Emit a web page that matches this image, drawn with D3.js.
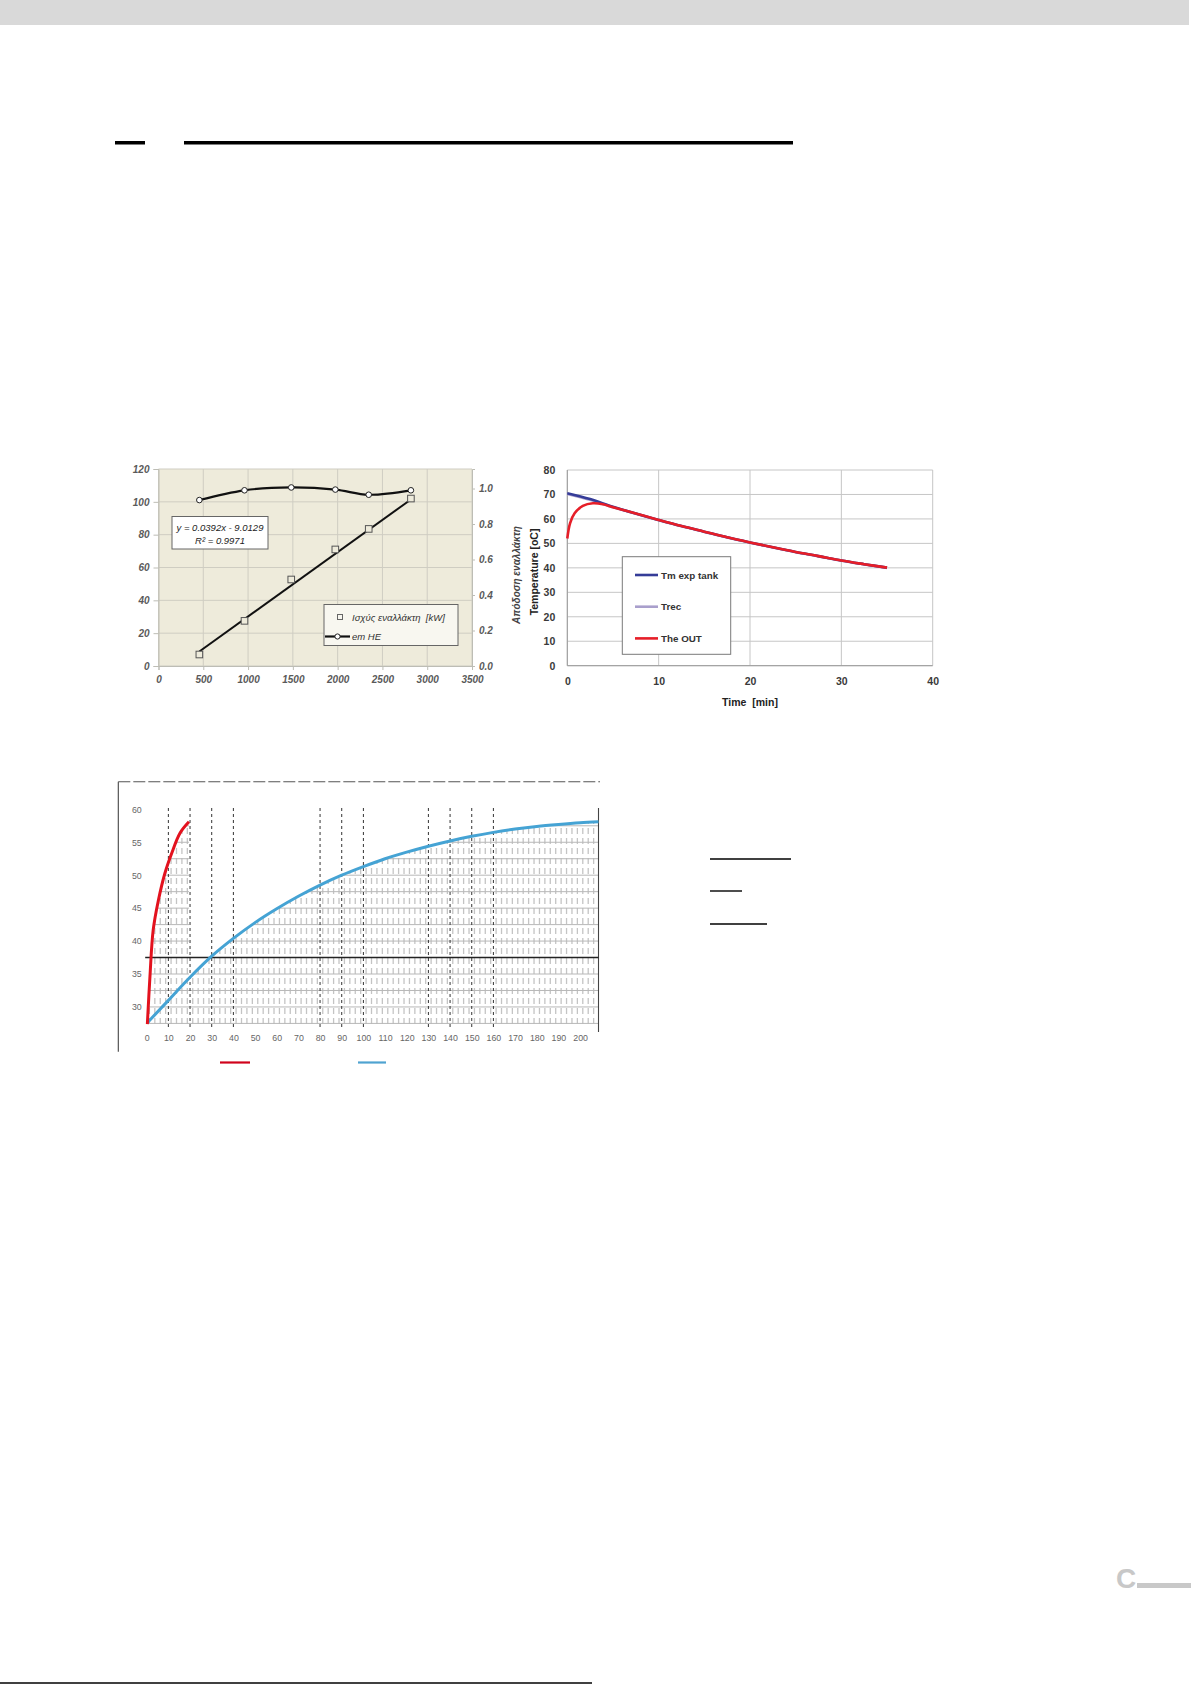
<!DOCTYPE html>
<html><head><meta charset="utf-8">
<script src="https://cdn.jsdelivr.net/npm/d3@7"></script>
<style>body{margin:0;background:#fff}svg{display:block}</style>
</head><body>
<svg id="c" width="1191" height="1685"></svg>
<script>
// ---------- Chart 1: heat exchanger power / efficiency ----------
const hePowerX = [456, 960, 1482, 1974, 2347, 2818];
const hePowerKW = [7, 27.5, 52.7, 71, 83.5, 102];
const heEfficiency = [0.935, 0.99, 1.006, 0.994, 0.965, 0.99];
const trendSlope = 0.0392, trendIntercept = -9.0129;
const trendLabel = ["y = 0.0392x - 9.0129", "R² = 0.9971"];
const heXTicks = [0, 500, 1000, 1500, 2000, 2500, 3000, 3500];
const heYTicks = [0, 20, 40, 60, 80, 100, 120];
const heY2Ticks = [0, 0.2, 0.4, 0.6, 0.8, 1.0];
const heLegend = ["Ισχύς εναλλάκτη  [kW]", "em HE"];
const heY2Title = "Απόδοση εναλλάκτη";

// ---------- Chart 2: temperatures vs time ----------
const tempTime = [0, 2.5, 5, 7.5, 10, 12.5, 15, 17.5, 20, 22.5, 25, 27.5, 30, 32.5, 35];
const tmExpTank = [70.5, 68.1, 65.0, 62.2, 59.6, 57.1, 54.8, 52.5, 50.4, 48.4, 46.5, 44.8, 43.0, 41.5, 40.1];
const tRec = [70.2, 67.8, 64.8, 62.1, 59.5, 57.0, 54.7, 52.4, 50.3, 48.3, 46.4, 44.7, 42.9, 41.4, 40.0];
const outTime = [0, 0.3, 0.8, 1.7, 2.8, 3.9, 5, 7.5, 10, 12.5, 15, 17.5, 20, 22.5, 25, 27.5, 30, 32.5, 35];
const theOut = [52.0, 58.2, 62.3, 65.3, 66.4, 66.0, 64.8, 62.2, 59.6, 57.1, 54.8, 52.5, 50.4, 48.4, 46.5, 44.8, 43.0, 41.5, 40.1];
const tempXTicks = [0, 10, 20, 30, 40];
const tempYTicks = [0, 10, 20, 30, 40, 50, 60, 70, 80];
const tempSeries = ["Tm exp tank", "Trec", "The OUT"];
const tempColors = ["#353c98", "#a99fcc", "#e61e28"];

// ---------- Chart 3: heating curves ----------
const heatRedTime = [0.3, 1.5, 3, 5.4, 8.4, 11.5, 15.4, 19.5];
const heatRedTemp = [27.4, 34.6, 41.7, 46.2, 50.3, 53.3, 56.4, 58.1];
const heatBlueTime = [0.3, 10, 20, 30, 40, 50, 60, 70, 80, 90, 100, 110, 120, 130, 140, 150, 160, 170, 180, 190, 200, 208.5];
const heatBlueTemp = [27.6, 31.0, 34.5, 37.7, 40.4, 42.8, 44.9, 46.8, 48.5, 50.0, 51.3, 52.5, 53.5, 54.4, 55.2, 55.9, 56.5, 57.0, 57.4, 57.7, 57.95, 58.1];
const heatXTicks = [0, 10, 20, 30, 40, 50, 60, 70, 80, 90, 100, 110, 120, 130, 140, 150, 160, 170, 180, 190, 200];
const heatYTicks = [30, 35, 40, 45, 50, 55, 60];
const heatMarkLines = [10, 20, 30, 40, 80, 90, 100, 130, 140, 150, 160];
const heatRefLevel = 37.5;

const svg = d3.select("#c");
const F = "'Liberation Sans', Arial, sans-serif";

// ---------- page decorations ----------
svg.append("rect").attr("x", 0).attr("y", 0).attr("width", 1189).attr("height", 25).attr("fill", "#d9d9d9");
svg.append("rect").attr("x", 115).attr("y", 141).attr("width", 30).attr("height", 3.5).attr("fill", "#000");
svg.append("rect").attr("x", 184).attr("y", 141).attr("width", 609).attr("height", 3.5).attr("fill", "#000");
[[710, 791, 859], [710, 742, 891], [710, 767, 924]].forEach(([a, b, y]) =>
  svg.append("line").attr("x1", a).attr("x2", b).attr("y1", y).attr("y2", y).attr("stroke", "#000").attr("stroke-width", 1.4));
svg.append("text").attr("x", 1116).attr("y", 1588).attr("font-family", F).attr("font-weight", "bold")
  .attr("font-size", 28).attr("fill", "#c8c8c8").text("C");
svg.append("rect").attr("x", 1137).attr("y", 1583).attr("width", 54).attr("height", 5).attr("fill", "#c8c8c8");
svg.append("line").attr("x1", 0).attr("x2", 592).attr("y1", 1683).attr("y2", 1683).attr("stroke", "#000").attr("stroke-width", 1.5);

// ---------- Chart 1 ----------
{
  const g = svg.append("g");
  const x = d3.scaleLinear().domain([0, 3500]).range([158.5, 472]);
  const y = d3.scaleLinear().domain([0, 120]).range([666, 469]);
  const y2 = d3.scaleLinear().domain([0, 1.11]).range([666, 469]);
  g.append("rect").attr("x", x(0)).attr("y", y(120)).attr("width", x(3500) - x(0)).attr("height", y(0) - y(120)).attr("fill", "#eeebdb");
  g.selectAll(".vg").data(heXTicks).join("line").attr("x1", d => x(d)).attr("x2", d => x(d)).attr("y1", y(0)).attr("y2", y(120)).attr("stroke", "#cfcdc2");
  g.selectAll(".hg").data(heYTicks).join("line").attr("y1", d => y(d)).attr("y2", d => y(d)).attr("x1", x(0)).attr("x2", x(3500)).attr("stroke", "#cfcdc2");

  const st = sel => { sel.selectAll("text").attr("font-family", F).attr("font-style", "italic").attr("font-weight", "bold").attr("font-size", 10).attr("fill", "#5a5a5a");
    sel.selectAll("line").attr("stroke", "#bdbdb5"); sel.select(".domain").attr("stroke", "#bdbdb5"); };
  g.append("g").attr("transform", `translate(0,${y(0)})`).call(d3.axisBottom(x).tickValues(heXTicks).tickSize(4).tickPadding(6).tickFormat(d3.format("d"))).call(st);
  g.append("g").attr("transform", `translate(${x(0)},0)`).call(d3.axisLeft(y).tickValues(heYTicks).tickSize(5).tickPadding(4)).call(st);
  g.append("g").attr("transform", `translate(${x(3500)},0)`).call(d3.axisRight(y2).tickValues(heY2Ticks).tickSize(3).tickPadding(4).tickFormat(d3.format(".1f"))).call(st);
  g.selectAll(".domain").attr("stroke", "#bdbdb5");

  g.append("text").attr("transform", "translate(520,575) rotate(-90)").attr("text-anchor", "middle")
    .attr("font-family", F).attr("font-style", "italic").attr("font-weight", "bold").attr("font-size", 10).attr("fill", "#444").text(heY2Title);

  const tx = [hePowerX[0], hePowerX[hePowerX.length - 1]];
  g.append("line").attr("x1", x(tx[0])).attr("y1", y(trendSlope * tx[0] + trendIntercept))
    .attr("x2", x(tx[1])).attr("y2", y(trendSlope * tx[1] + trendIntercept)).attr("stroke", "#111").attr("stroke-width", 2);
  g.selectAll(".sq").data(hePowerX).join("rect").attr("x", (d, i) => x(d) - 3.3).attr("y", (d, i) => y(hePowerKW[i]) - 3.3)
    .attr("width", 6.6).attr("height", 6.6).attr("fill", "#eeebdb").attr("stroke", "#555").attr("stroke-width", 1);
  const pts = hePowerX.map((d, i) => [x(d), y2(heEfficiency[i])]);
  g.append("path").attr("d", d3.line().curve(d3.curveCatmullRom.alpha(0.5))(pts)).attr("fill", "none").attr("stroke", "#111").attr("stroke-width", 2.2);
  g.selectAll(".ci").data(pts).join("circle").attr("cx", d => d[0]).attr("cy", d => d[1]).attr("r", 2.8)
    .attr("fill", "#fff").attr("stroke", "#222").attr("stroke-width", 1);

  g.append("rect").attr("x", 172).attr("y", 516.5).attr("width", 96).attr("height", 32.5).attr("fill", "#fff").attr("stroke", "#666");
  trendLabel.forEach((t, i) => g.append("text").attr("x", 220).attr("y", 531 + i * 12.5).attr("text-anchor", "middle")
    .attr("font-family", F).attr("font-style", "italic").attr("font-size", 9.5).attr("fill", "#222").text(t));

  g.append("rect").attr("x", 324).attr("y", 604.5).attr("width", 134).attr("height", 41).attr("fill", "#f8f7f0").attr("stroke", "#666");
  g.append("rect").attr("x", 337.5).attr("y", 614.5).attr("width", 5).attr("height", 5).attr("fill", "none").attr("stroke", "#666");
  g.append("line").attr("x1", 325).attr("x2", 350).attr("y1", 636.5).attr("y2", 636.5).attr("stroke", "#111").attr("stroke-width", 2.2);
  g.append("circle").attr("cx", 337.5).attr("cy", 636.5).attr("r", 2.6).attr("fill", "#fff").attr("stroke", "#222");
  heLegend.forEach((t, i) => g.append("text").attr("x", 352).attr("y", 620.5 + i * 19.5).style("white-space", "pre")
    .attr("font-family", F).attr("font-style", "italic").attr("font-size", 9.5).attr("fill", "#333").text(t));
}

// ---------- Chart 2 ----------
{
  const g = svg.append("g");
  const x = d3.scaleLinear().domain([0, 40]).range([567.3, 932.7]);
  const y = d3.scaleLinear().domain([0, 80]).range([665.7, 470]);
  g.selectAll(".vg").data(tempXTicks).join("line").attr("x1", d => x(d)).attr("x2", d => x(d)).attr("y1", y(0)).attr("y2", y(80)).attr("stroke", "#c6c6c6");
  g.selectAll(".hg").data(tempYTicks).join("line").attr("y1", d => y(d)).attr("y2", d => y(d)).attr("x1", x(0)).attr("x2", x(40)).attr("stroke", "#c6c6c6");
  const st = sel => { sel.select(".domain").remove(); sel.selectAll("line").remove();
    sel.selectAll("text").attr("font-family", F).attr("font-weight", "bold").attr("font-size", 10.5).attr("fill", "#3a3a3a"); };
  g.append("g").attr("transform", `translate(0,${y(0)})`).call(d3.axisBottom(x).tickValues(tempXTicks).tickSize(0).tickPadding(12)).call(st);
  g.append("g").attr("transform", `translate(${x(0)},0)`).call(d3.axisLeft(y).tickValues(tempYTicks).tickSize(0).tickPadding(12)).call(st);
  g.append("line").attr("x1", x(0)).attr("x2", x(0)).attr("y1", y(0)).attr("y2", y(80)).attr("stroke", "#9a9a9a");
  g.append("line").attr("x1", x(0)).attr("x2", x(40)).attr("y1", y(0)).attr("y2", y(0)).attr("stroke", "#9a9a9a");

  g.append("text").attr("transform", "translate(538,572) rotate(-90)").attr("text-anchor", "middle")
    .attr("font-family", F).attr("font-weight", "bold").attr("font-size", 10.5).attr("fill", "#222").text("Temperature [oC]");
  g.append("text").attr("x", 750).attr("y", 706).attr("text-anchor", "middle").style("white-space", "pre")
    .attr("font-family", F).attr("font-weight", "bold").attr("font-size", 10.5).attr("fill", "#222").text("Time  [min]");

  const ln = d3.line().curve(d3.curveCatmullRom.alpha(0.5));
  const series = [[tempTime, tRec, 1], [tempTime, tmExpTank, 0], [outTime, theOut, 2]];
  series.forEach(([t, v, ci]) => g.append("path").attr("d", ln(t.map((d, i) => [x(d), y(v[i])])))
    .attr("fill", "none").attr("stroke", tempColors[ci]).attr("stroke-width", 2.6));

  g.append("rect").attr("x", 622.3).attr("y", 556.7).attr("width", 108.4).attr("height", 97.6).attr("fill", "#fff").attr("stroke", "#7a7a7a");
  tempSeries.forEach((s, i) => {
    const yy = 575 + i * 31.7;
    g.append("line").attr("x1", 635).attr("x2", 658).attr("y1", yy).attr("y2", yy).attr("stroke", tempColors[i]).attr("stroke-width", 2.6);
    g.append("text").attr("x", 661).attr("y", yy + 3.5).attr("font-family", F).attr("font-weight", "bold").attr("font-size", 9.8).attr("fill", "#333").text(s);
  });
}

// ---------- Chart 3 ----------
{
  const g = svg.append("g");
  const x = d3.scaleLinear().domain([0, 208.5]).range([146.7, 598.5]);
  const y = d3.scaleLinear().domain([26.5, 60.2]).range([1030, 808]);

  g.append("line").attr("x1", 118.3).attr("x2", 118.3).attr("y1", 781.7).attr("y2", 1051.7).attr("stroke", "#444").attr("stroke-width", 1.1);
  g.append("line").attr("x1", 118.3).attr("x2", 600).attr("y1", 781.7).attr("y2", 781.7).attr("stroke", "#555").attr("stroke-width", 1.1).attr("stroke-dasharray", "12 3");

  const clip = svg.append("defs").append("clipPath").attr("id", "hatch");
  const ar = (t, v, c) => d3.area().curve(c).x(d => x(d[0])).y0(y(26.8)).y1(d => y(d[1]))(t.map((d, i) => [d, v[i]]));
  clip.append("path").attr("d", ar(heatBlueTime, heatBlueTemp, d3.curveMonotoneX));
  clip.append("path").attr("d", ar(heatRedTime, heatRedTemp, d3.curveCatmullRom.alpha(0.5)));
  const hg = g.append("g").attr("clip-path", "url(#hatch)");
  hg.selectAll(".hv").data(d3.range(1.25, 208.5, 2.5)).join("line").attr("x1", d => x(d)).attr("x2", d => x(d))
    .attr("y1", y(60.2)).attr("y2", y(26.8)).attr("stroke", "#c4c4c4").attr("stroke-width", 1.3).attr("stroke-dasharray", "6 4");
  hg.selectAll(".hh").data(d3.range(27.5, 60, 2.5)).join("line").attr("y1", d => y(d)).attr("y2", d => y(d))
    .attr("x1", x(0)).attr("x2", x(208.5)).attr("stroke", "#b8b8b8").attr("stroke-width", 1);

  g.selectAll(".mv").data(heatMarkLines).join("line").attr("x1", d => x(d)).attr("x2", d => x(d))
    .attr("y1", y(60.2)).attr("y2", y(26.8)).attr("stroke", "#333").attr("stroke-width", 1).attr("stroke-dasharray", "3 3");
  g.append("line").attr("x1", x(208.5)).attr("x2", x(208.5)).attr("y1", y(60.2)).attr("y2", y(26.2)).attr("stroke", "#444").attr("stroke-width", 1.1);
  g.append("line").attr("x1", x(-0.7)).attr("x2", x(208.5)).attr("y1", y(heatRefLevel)).attr("y2", y(heatRefLevel)).attr("stroke", "#222").attr("stroke-width", 1.6);

  const st = sel => { sel.select(".domain").remove(); sel.selectAll("line").remove();
    sel.selectAll("text").attr("font-family", F).attr("font-size", 8.8).attr("fill", "#666"); };
  g.append("g").attr("transform", `translate(0,${y(26.5)})`).call(d3.axisBottom(x).tickValues(heatXTicks).tickSize(0).tickPadding(5)).call(st);
  g.append("g").attr("transform", `translate(${x(0) - 3},0)`).call(d3.axisLeft(y).tickValues(heatYTicks).tickSize(0).tickPadding(2)).call(st);

  g.append("path").attr("d", d3.line().curve(d3.curveMonotoneX)(heatBlueTime.map((d, i) => [x(d), y(heatBlueTemp[i])])))
    .attr("fill", "none").attr("stroke", "#45a3d4").attr("stroke-width", 3);
  g.append("path").attr("d", d3.line().curve(d3.curveCatmullRom.alpha(0.5))(heatRedTime.map((d, i) => [x(d), y(heatRedTemp[i])])))
    .attr("fill", "none").attr("stroke", "#e3121e").attr("stroke-width", 3);

  g.append("line").attr("x1", 220).attr("x2", 250).attr("y1", 1062.5).attr("y2", 1062.5).attr("stroke", "#d0021b").attr("stroke-width", 2.2);
  g.append("line").attr("x1", 358).attr("x2", 386).attr("y1", 1062.5).attr("y2", 1062.5).attr("stroke", "#4fa3d1").attr("stroke-width", 2.2);
}
</script>
</body></html>
